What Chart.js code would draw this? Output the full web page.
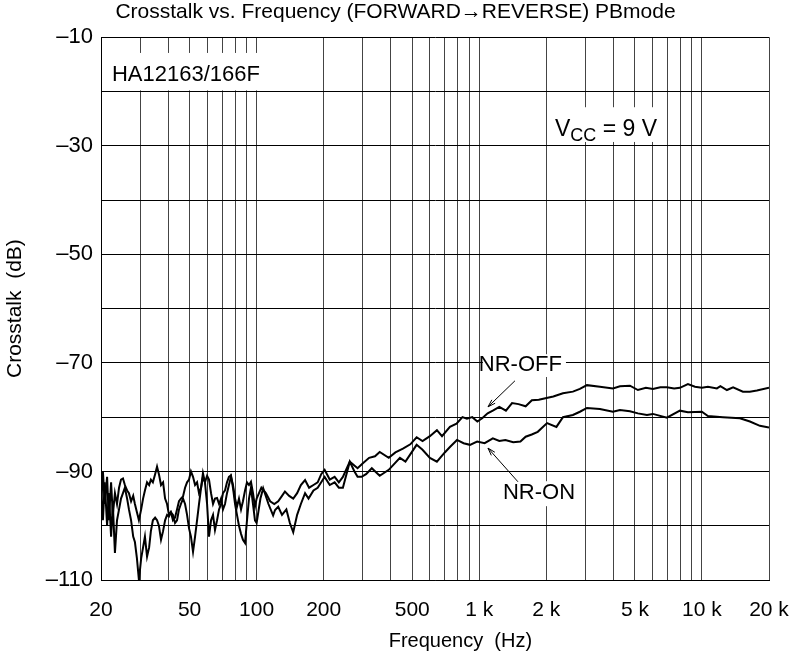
<!DOCTYPE html>
<html lang="en">
<head>
<meta charset="UTF-8" />
<title>Crosstalk vs. Frequency</title>
<script src="https://cdn.jsdelivr.net/npm/chart.js"></script>
<style>
  html, body { margin: 0; padding: 0; background: #fff; }
  #wrap { width: 791px; height: 662px; }
</style>
</head>
<body>
<div id="wrap"><canvas id="xtalk" width="791" height="662"></canvas></div>
<script>
// NR-OFF curve: frequency (Hz) / crosstalk (dB)
const offFreq = [20, 20.4, 20.8, 21.3, 21.7, 22.2, 22.6, 23.1, 23.6, 24.1, 24.6, 25.1, 25.6, 26.2, 26.7, 27.3, 27.9, 28.4, 29.0, 29.6,
  30.3, 30.9, 31.5, 32.2, 32.9, 33.5, 34.2, 35.0, 35.7, 36.4, 37.2, 38.0, 38.8, 39.6, 40.4, 41.2, 42.1, 43.0, 43.9, 44.8,
  45.7, 46.7, 47.7, 48.7, 49.7, 50.7, 51.8, 52.9, 54.0, 55.1, 56.3, 57.4, 58.6, 59.9, 61.1, 62.4, 63.7, 65.0, 66.4, 67.8,
  69.2, 70.6, 72.1, 73.6, 75.1, 76.7, 78.3, 80.0, 81.6, 83.3, 85.1, 86.8, 88.7, 90.5, 92.4, 94.3, 96.3, 98.3, 100, 105,
  110, 115, 120, 125, 130, 134, 140, 146, 152, 158, 165, 172, 180, 188, 195, 202, 213, 224, 234, 244,
  262, 284, 300, 320, 340, 357, 392, 420, 454, 490, 523, 556, 600, 645, 680, 738, 790, 840, 880, 930,
  980, 1030, 1090, 1150, 1230, 1317, 1403, 1500, 1615, 1722, 1850, 1981, 2150, 2375, 2632, 2830, 3044, 3480, 3982, 4282,
  4748, 5157, 5600, 6021, 6500, 6958, 7500, 7960, 8647, 9300, 9992, 10632, 11668, 12100, 12942, 13800, 15270, 16400, 17650, 20000];
const offDb = [-97, -90, -96, -91, -99, -92, -98, -94, -96, -93, -91.5, -91.3, -92.5, -93.5, -94, -95.5, -94.5, -96, -97.5, -99,
  -97, -95, -93.5, -92, -92.5, -91.5, -92, -90.5, -89.1, -90.5, -92.5, -92, -95, -96, -98, -97.5, -99, -98.5, -97, -95.5,
  -95, -94.6, -93, -92, -91.5, -90, -91, -92.5, -92, -94, -93, -91, -92, -90.8, -91.5, -94, -96, -95, -94.9, -96,
  -95, -97, -96, -94, -92.5, -91, -92.5, -95, -96.5, -95, -97, -95.5, -93.5, -92, -92.5, -91.9, -94, -96.5, -95, -93,
  -94, -95.5, -96, -95.5, -94.5, -93.7, -94.5, -95, -94, -92.5, -91.6, -93, -92.5, -92, -90.5, -89.7, -91.5, -91, -92, -91,
  -88.2, -89.4, -88.5, -87.5, -87.2, -86.4, -87.5, -86.5, -85.8, -85, -83.7, -84.4, -83.5, -82.4, -83.5, -81.8, -81.2, -80, -80.3, -80,
  -80.8, -80.2, -79.3, -78.8, -78.1, -78.8, -77.4, -77.6, -78, -76.9, -76.8, -76.5, -76.2, -75.6, -75.3, -74.8, -74.1, -74.4, -74.7, -74.3,
  -74.2, -75, -74.6, -74.8, -74.5, -74.5, -74.7, -74.6, -73.9, -74.4, -74.6, -74.4, -74.7, -74.3, -75, -74.5, -75.3, -75.3, -75.1, -74.6];

// NR-ON curve
const onFreq = [20, 20.4, 20.8, 21.3, 21.7, 22.2, 22.6, 23.1, 23.6, 24.1, 24.6, 25.1, 25.6, 26.2, 26.7, 27.3, 27.9, 28.4, 29.0, 29.6,
  30.3, 30.9, 31.5, 32.2, 32.9, 33.5, 34.2, 35.0, 35.7, 36.4, 37.2, 38.0, 38.8, 39.6, 40.4, 41.2, 42.1, 43.0, 43.9, 44.8,
  45.7, 46.7, 47.7, 48.7, 49.7, 50.7, 51.8, 52.9, 54.0, 55.1, 56.3, 57.4, 58.6, 59.9, 61.1, 62.4, 63.7, 65.0, 66.4, 67.8,
  69.2, 70.6, 72.1, 73.6, 75.1, 76.7, 78.3, 80.0, 81.6, 83.3, 85.1, 86.8, 88.7, 90.5, 92.4, 94.3, 96.3, 98.3, 100, 104,
  107, 113, 118.6, 121, 125, 130, 136, 141, 146, 152, 158, 165, 171, 180, 188, 195, 202, 213, 224, 234,
  244, 262, 275, 284, 296, 310, 329, 357, 392, 440, 466, 523, 556, 600, 645, 700, 738, 794, 850, 908,
  978, 1057, 1150, 1230, 1310, 1420, 1530, 1615, 1720, 1830, 2015, 2220, 2375, 2632, 2830, 3044, 3480, 3982, 4282, 4748,
  5157, 5659, 6021, 6958, 7960, 8647, 9992, 10632, 12417, 14804, 16418, 18206, 20000];
const onDb = [-93, -99, -92, -100, -94, -102, -96, -105, -99, -97, -95, -94, -93, -95, -97, -99, -102, -103, -106, -110,
  -106, -104, -102, -105.7, -104, -101, -99, -98.5, -99, -100, -102.6, -101, -99, -98, -98.3, -97.5, -98, -99.5, -99, -97,
  -96, -95, -96, -98, -100.5, -102, -104.8, -102, -99, -96, -93, -90.3, -92, -96, -102, -99, -98, -100.8, -99, -97,
  -96, -94, -93.5, -92, -91, -90.7, -93, -96, -98, -100, -101.5, -102.6, -103.2, -99, -95, -93, -96, -99, -99.5, -95,
  -93.1, -96, -98.1, -97.1, -96.5, -98, -97, -99.5, -101.2, -98, -96, -94, -95, -93.5, -93, -92, -91, -92.5, -92, -93,
  -93, -88.2, -90, -91, -91, -90.5, -89.4, -90.8, -89.7, -87.5, -88.2, -85.1, -86, -87.5, -88.2, -86.5, -85.5, -84.2, -84.8, -85.1,
  -84.5, -84.8, -83.9, -84.4, -84.2, -84.6, -84.5, -83.6, -83.2, -82.7, -81.1, -81.8, -80, -79.6, -79, -78.3, -78.5, -79, -78.7, -78.9,
  -79.3, -79.6, -79.4, -80.1, -78.8, -79.1, -79, -79.8, -80, -80.2, -80.8, -81.6, -81.9];

// axis ticks
const gridFreqs = [20, 30, 40, 50, 60, 70, 80, 90, 100, 200, 300, 400, 500, 600, 700, 800, 900,
  1000, 2000, 3000, 4000, 5000, 6000, 7000, 8000, 9000, 10000, 20000];
const freqLabels = { 20: '20', 50: '50', 100: '100', 200: '200', 500: '500', 1000: '1 k', 2000: '2 k', 5000: '5 k', 10000: '10 k', 20000: '20 k' };
const dbLabels = [-10, -30, -50, -70, -90, -110];

// white label backgrounds and notes, anchored in data units (Hz, dB)
const labelBoxes = [
  { f0: 20.4, f1: 105, d0: -12.9, d1: -19.8 },
  { f0: 2045, f1: 6816, d0: -22.9, d1: -29.3 },
  { f0: 1038, f1: 2450, d0: -68.4, d1: -72.6 },
  { f0: 1225, f1: 2632, d0: -91.8, d1: -96.4 }
];
const arrows = [
  { f0: 1446, d0: -73.3, f1: 1094, d1: -78.1 },
  { f0: 1491, d0: -91.9, f1: 1094, d1: -85.7 }
];

const FONT = '"Liberation Sans", Arial, Helvetica, sans-serif';
Chart.defaults.font.family = FONT;
Chart.defaults.color = '#000';

function toPoints(fs, ds) {
  return fs.map((f, i) => ({ x: f, y: ds[i] }));
}

const notes = {
  id: 'notes',
  afterDatasetsDraw(chart) {
    const { ctx, chartArea, scales: { x, y } } = chart;
    ctx.save();
    ctx.fillStyle = '#fff';
    labelBoxes.forEach(b => {
      const x0 = x.getPixelForValue(b.f0), x1 = x.getPixelForValue(b.f1);
      const y0 = y.getPixelForValue(b.d0), y1 = y.getPixelForValue(b.d1);
      ctx.fillRect(x0, y0, x1 - x0, y1 - y0);
    });

    ctx.fillStyle = '#000';
    ctx.font = '22px ' + FONT;
    ctx.textBaseline = 'alphabetic';
    ctx.textAlign = 'left';
    ctx.fillText('HA12163/166F', x.getPixelForValue(22.4), y.getPixelForValue(-18.1));

    // V_CC = 9 V with subscript
    let px = x.getPixelForValue(2186);
    const base = y.getPixelForValue(-28.2);
    ctx.font = '23px ' + FONT;
    ctx.fillText('V', px, base);
    px += ctx.measureText('V').width;
    ctx.font = '18px ' + FONT;
    ctx.fillText('CC', px, base + 5);
    px += ctx.measureText('CC').width;
    ctx.font = '23px ' + FONT;
    ctx.fillText(' = 9 V', px, base);

    ctx.font = '22px ' + FONT;
    ctx.textBaseline = 'middle';
    ctx.textAlign = 'right';
    ctx.fillText('NR-OFF', x.getPixelForValue(2350), y.getPixelForValue(-70.3));
    ctx.textAlign = 'left';
    ctx.fillText('NR-ON', x.getPixelForValue(1277), y.getPixelForValue(-94));

    ctx.strokeStyle = '#000';
    ctx.lineWidth = 1;
    arrows.forEach(a => {
      const x0 = x.getPixelForValue(a.f0), y0 = y.getPixelForValue(a.d0);
      const x1 = x.getPixelForValue(a.f1), y1 = y.getPixelForValue(a.d1);
      const ang = Math.atan2(y1 - y0, x1 - x0);
      ctx.beginPath();
      ctx.moveTo(x0, y0);
      ctx.lineTo(x1, y1);
      ctx.moveTo(x1 - 8 * Math.cos(ang - 0.3), y1 - 8 * Math.sin(ang - 0.3));
      ctx.lineTo(x1, y1);
      ctx.lineTo(x1 - 8 * Math.cos(ang + 0.3), y1 - 8 * Math.sin(ang + 0.3));
      ctx.stroke();
    });

    // x axis title, sits a bit right of centre in the original
    ctx.font = '20px ' + FONT;
    ctx.textAlign = 'center';
    ctx.textBaseline = 'middle';
    ctx.fillText('Frequency  (Hz)', chartArea.left + (chartArea.right - chartArea.left) * 0.538, 641);
    ctx.restore();
  }
};

new Chart(document.getElementById('xtalk'), {
  type: 'line',
  data: {
    datasets: [
      { label: 'NR-OFF', data: toPoints(offFreq, offDb), borderColor: '#000', borderWidth: 2, pointRadius: 0, tension: 0, fill: false },
      { label: 'NR-ON', data: toPoints(onFreq, onDb), borderColor: '#000', borderWidth: 2, pointRadius: 0, tension: 0, fill: false }
    ]
  },
  options: {
    responsive: false,
    animation: false,
    devicePixelRatio: 1,
    layout: { padding: 0 },
    plugins: {
      legend: { display: false },
      tooltip: { enabled: false },
      title: {
        display: true,
        text: 'Crosstalk vs. Frequency (FORWARD\u2192REVERSE) PBmode',
        font: { size: 21, weight: 'normal' },
        color: '#000',
        padding: { top: 0, bottom: 12 }
      }
    },
    scales: {
      x: {
        type: 'logarithmic',
        min: 20,
        max: 20000,
        afterBuildTicks: s => { s.ticks = gridFreqs.map(v => ({ value: v })); },
        // fixed axis height; keep 22px free on the right for the "20 k" label
        afterFit: s => { s.height = 82; s.paddingLeft = 0; s.paddingRight = 22; },
        ticks: {
          autoSkip: false,
          maxRotation: 0,
          padding: 18,
          font: { size: 21 },
          color: '#000',
          callback: v => freqLabels[v] || ''
        },
        grid: { color: '#444', lineWidth: 1, drawTicks: false },
        border: { color: '#000', width: 1 }
      },
      y: {
        min: -110,
        max: -10,
        afterFit: s => { s.width = 101; },
        ticks: {
          stepSize: 10,
          padding: 8,
          font: { size: 22 },
          color: '#000',
          callback: v => dbLabels.includes(v) ? '\u2013' + Math.abs(v) : ''
        },
        grid: { color: '#000', lineWidth: 1, drawTicks: false },
        border: { color: '#000', width: 1 },
        title: {
          display: true,
          text: 'Crosstalk  (dB)',
          font: { size: 21 },
          color: '#000',
          padding: { top: 3, bottom: 0 }
        }
      }
    }
  },
  plugins: [notes]
});
</script>
</body>
</html>
